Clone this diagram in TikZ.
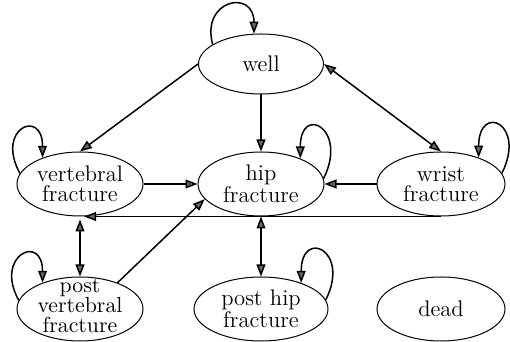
\documentclass[tikz,border=0pt]{standalone}
\usepackage{tikz}
\usetikzlibrary{shapes.geometric,arrows.meta}

\begin{document}
\begin{tikzpicture}[x=0.5pt,y=0.5pt,
    >={Triangle[length=6pt,width=4.4pt,fill=black!60]},
    state/.style={draw, ellipse, line width=0.5pt, minimum width=63pt,
      minimum height=32pt, inner sep=0pt, align=center,
      font=\fontsize{11.3}{10}\selectfont},
    lbl/.style={align=center, inner sep=0pt, font=\fontsize{10.9}{10}\selectfont},
    arr/.style={line width=0.75pt}]
    \def\xl{80}
    \def\xm{261}
    \def\xr{441}
    \def\ya{278}
    \def\yb{158}
    \def\yc{33}

    \useasboundingbox (0,0) rectangle (510,342) ;

    % states
    \node [state, minimum width=62.5pt, minimum height=30pt] (well) at (\xm,\ya) {well} ;
    \node [state] (vert) at (\xl,\yb) {vertebral\\fracture} ;
    \node [state] (hip) at (\xm,\yb) {hip\\fracture} ;
    \node [state, minimum width=64pt] (wrist) at (\xr,\yb) {wrist\\fracture} ;
    \node [state, label={[lbl,yshift=1.5pt]center:post\\vertebral\\fracture}] (postv) at (\xl,\yc) {} ;
    \node [state, minimum width=67pt] (posth) at (\xm,\yc) {post hip\\fracture} ;
    \node [state, minimum width=64pt] (dead) at (\xr,\yc) {dead} ;

    % transitions
    \draw [arr,->] (well.west) -- (vert.north) ;
    \draw [arr,->] (well.south) -- (hip.north) ;
    \draw [arr,<->] (well.east) -- (wrist.north) ;
    \draw [arr,->] (vert.east) -- (hip.west) ;
    \draw [arr,->] (wrist.west) -- (hip.east) ;
    \draw [arr,->, shorten >=2pt] (wrist.south) -- (vert.south) ;
    \draw [arr,<->, shorten <=1.5pt] (vert.south) -- (postv.north) ;
    \draw [arr,->] (postv.35) -- (hip.195) ;
    \draw [arr,<->] (hip.south) -- (posth.north) ;

    % staying in the same state
    \draw [arr,->] (well.158) .. controls +(-12,45) and +(0,45) .. (well.103) ;
    \foreach \s/\a/\b in {vert/170/145, postv/172/145} {
      \draw [arr,->] (\s.\a) .. controls +(-25,45) and +(0,50) .. (\s.\b) ;
    }
    \foreach \s/\a/\b in {hip/5/33, wrist/10/35, posth/8/33} {
      \draw [arr,->] (\s.\a) .. controls +(25,50) and +(0,55) .. (\s.\b) ;
    }

  \end{tikzpicture}
\end{document}
